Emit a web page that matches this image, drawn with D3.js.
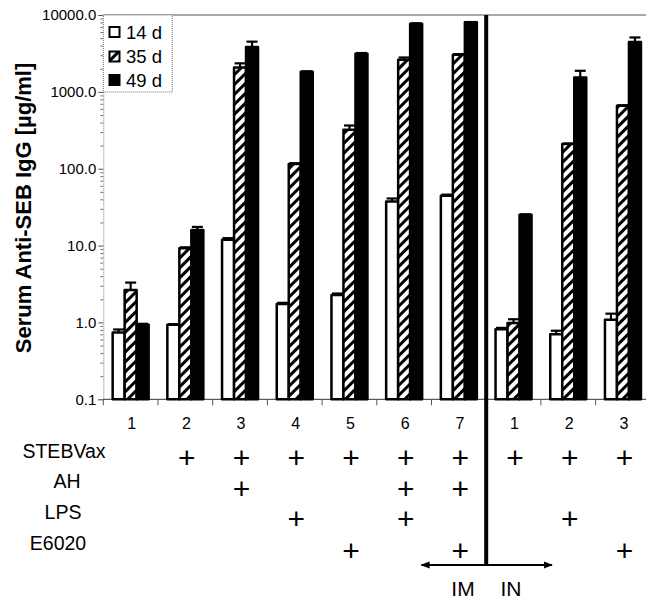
<!DOCTYPE html>
<html>
<head>
<meta charset="utf-8">
<script src="https://cdn.jsdelivr.net/npm/d3@7"></script>
<style>
  html, body { margin: 0; padding: 0; background: #fff; }
  svg { display: block; font-family: "Liberation Sans", Arial, Helvetica, sans-serif; }
</style>
</head>
<body>
<svg id="chart" width="646" height="600"></svg>
<script>
// ---- data ----
const categories = ["1", "2", "3", "4", "5", "6", "7", "1", "2", "3"];
const seriesNames = ["14 d", "35 d", "49 d"];
const day14 = [0.74, 0.93, 11.9, 1.74, 2.28, 37.4, 44.4, 0.815, 0.70, 1.08];
const day14Err = [0.81, 0.95, 12.5, 1.80, 2.38, 41, 46, 0.85, 0.78, 1.30];
const day35 = [2.65, 9.25, 2080, 115, 321, 2620, 3040, 0.98, 209, 659];
const day35Err = [3.3, 9.5, 2350, 118, 365, 2800, 3100, 1.1, 213, 670];
const day49 = [0.93, 16.0, 3830, 1830, 3130, 7710, 8020, 25.1, 1540, 4450];
const day49Err = [0.96, 17.5, 4500, 1850, 3200, 7800, 8100, 25.5, 1880, 5100];
const yTicks = [0.1, 1, 10, 100, 1000, 10000];
const rowLabels = ["STEBVax", "AH", "LPS", "E6020"];
const stebvax = [0, 1, 1, 1, 1, 1, 1, 1, 1, 1];
const ah      = [0, 0, 1, 0, 0, 1, 1, 0, 0, 0];
const lps     = [0, 0, 0, 1, 0, 1, 0, 0, 1, 0];
const e6020   = [0, 0, 0, 0, 1, 0, 1, 0, 0, 1];
const routeLabels = ["IM", "IN"];
const yLabel = "Serum Anti-SEB IgG [µg/ml]";

// ---- layout ----
const svg = d3.select("#chart");
const plotLeft = 103.3, plotRight = 650.3, plotTop = 15, plotBottom = 399.3;
const idx = d3.range(categories.length);
const x0 = d3.scaleBand().domain(idx).range([plotLeft, plotRight]).padding(0);
const barW = 12;
const x1 = d3.scaleBand().domain([0, 1, 2]).range([0, barW * 3]).padding(0);
const groupOffset = (x0.bandwidth() - barW * 3) / 2;
const y = d3.scaleLog().domain([0.1, 10000]).range([plotBottom, plotTop]);

const values = [day14, day35, day49];
const errs = [day14Err, day35Err, day49Err];
const fills = ["#fff", "url(#hatch)", "#000"];

// pattern
const defs = svg.append("defs");
const pat = defs.append("pattern").attr("id", "hatch")
  .attr("patternUnits", "userSpaceOnUse").attr("width", 7).attr("height", 7)
  .attr("patternTransform", "rotate(45)");
pat.append("rect").attr("width", 7).attr("height", 7).attr("fill", "#fff");
pat.append("line").attr("x1", 1.5).attr("x2", 1.5).attr("y1", 0).attr("y2", 7)
  .attr("stroke", "#000").attr("stroke-width", 3);

// top frame
svg.append("line").attr("x1", plotLeft).attr("x2", 646).attr("y1", plotTop).attr("y2", plotTop)
  .attr("stroke", "#555").attr("stroke-width", 1);

// y axis
const minorTicks = [];
for (let e = -1; e < 4; e++) for (let m = 2; m <= 9; m++) minorTicks.push(m * Math.pow(10, e));
const yAxisMinor = svg.append("g").attr("transform", `translate(${plotLeft},0)`)
  .call(d3.axisLeft(y).tickValues(minorTicks).tickSize(3).tickFormat(""));
yAxisMinor.select(".domain").remove();
yAxisMinor.selectAll("line").attr("stroke", "#777");
const yAxis = svg.append("g").attr("transform", `translate(${plotLeft},0)`)
  .call(d3.axisLeft(y).tickValues(yTicks).tickSize(5).tickPadding(2).tickFormat(d3.format(".1f")));
yAxis.select(".domain").attr("stroke", "#777").attr("stroke-dasharray", "1,1");
yAxis.selectAll("line").attr("stroke", "#555");
yAxis.selectAll("text").attr("font-size", 15).attr("fill", "#000")
  .style("font-family", "'Liberation Sans', Arial, sans-serif");

// bottom axis
const xAxis = svg.append("g").attr("transform", `translate(0,${plotBottom})`)
  .call(d3.axisBottom(x0).tickSize(0).tickFormat(i => categories[i]));
xAxis.select(".domain").attr("stroke", "#333").attr("d", `M${plotLeft},0H${plotRight}`);
xAxis.selectAll("text").attr("font-size", 16).attr("fill", "#000")
  .attr("y", 0).attr("dy", 0).attr("dx", 1)
  .attr("transform", "translate(0,30)")
  .style("font-family", "'Liberation Sans', Arial, sans-serif");
// boundary ticks
svg.append("g").selectAll("line").data(idx.slice(1)).join("line")
  .attr("x1", i => x0(i)).attr("x2", i => x0(i))
  .attr("y1", plotBottom).attr("y2", plotBottom + 6)
  .attr("stroke", "#555").attr("stroke-width", 1);
svg.append("line").attr("x1", plotLeft).attr("x2", plotLeft)
  .attr("y1", plotBottom).attr("y2", plotBottom + 6).attr("stroke", "#555");

// bars
const barsG = svg.append("g");
values.forEach((vals, s) => {
  barsG.append("g").selectAll("rect").data(idx).join("rect")
    .attr("x", i => x0(i) + groupOffset + x1(s))
    .attr("width", x1.bandwidth())
    .attr("y", i => y(vals[i]))
    .attr("height", i => plotBottom - y(vals[i]))
    .attr("fill", fills[s]).attr("stroke", "#000").attr("stroke-width", 2.5)
    .attr("stroke-linejoin", "round");
});
// error bars
values.forEach((vals, s) => {
  const g = barsG.append("g").attr("stroke", "#000").attr("stroke-width", 2.2);
  idx.forEach(i => {
    const cx = x0(i) + groupOffset + x1(s) + x1.bandwidth() / 2;
    g.append("line").attr("x1", cx).attr("x2", cx)
      .attr("y1", y(vals[i])).attr("y2", y(errs[s][i]));
    g.append("line").attr("x1", cx - 5.5).attr("x2", cx + 5.5)
      .attr("y1", y(errs[s][i])).attr("y2", y(errs[s][i]));
  });
});

// legend
const lg = svg.append("g");
lg.append("rect").attr("x", plotLeft).attr("y", plotTop).attr("width", 69).attr("height", 77)
  .attr("fill", "#fff").attr("stroke", "#777").attr("stroke-dasharray", "1,1");
const legendY = [32, 56.5, 80];
seriesNames.forEach((name, s) => {
  lg.append("rect").attr("x", 109.5).attr("y", legendY[s] - 5).attr("width", 10).attr("height", 10)
    .attr("fill", s === 1 ? "url(#hatch)" : fills[s]).attr("stroke", "#000").attr("stroke-width", 2);
  lg.append("text").attr("x", 126).attr("y", legendY[s] + 6.5).attr("font-size", 18.5)
    .text(name);
});

// separator and arrow
const sepX = x0(7);
svg.append("line").attr("x1", sepX).attr("x2", sepX).attr("y1", plotTop).attr("y2", 565)
  .attr("stroke", "#000").attr("stroke-width", 4);
defs.append("marker").attr("id", "arr").attr("viewBox", "0 0 10 10").attr("refX", 9).attr("refY", 5)
  .attr("markerWidth", 9).attr("markerHeight", 9).attr("markerUnits", "userSpaceOnUse")
  .attr("orient", "auto-start-reverse")
  .append("path").attr("d", "M0,1L10,5L0,9Z").attr("fill", "#000");
svg.append("line").attr("x1", 421.5).attr("x2", 552).attr("y1", 565).attr("y2", 565)
  .attr("stroke", "#000").attr("stroke-width", 2)
  .attr("marker-start", "url(#arr)").attr("marker-end", "url(#arr)");
svg.append("text").attr("x", 463).attr("y", 596).attr("text-anchor", "middle").attr("font-size", 21).text(routeLabels[0]);
svg.append("text").attr("x", 511).attr("y", 596).attr("text-anchor", "middle").attr("font-size", 21).text(routeLabels[1]);

// table rows
const rows = [stebvax, ah, lps, e6020];
const rowCenters = [450.7, 481, 511.7, 542.7];
const rowLabelX = [64, 67, 63, 58];
const plusCenters = [457, 488, 518.5, 550];
rows.forEach((row, r) => {
  svg.append("text").attr("x", rowLabelX[r]).attr("y", rowCenters[r] + 7)
    .attr("text-anchor", "middle").attr("font-size", 19.5).text(rowLabels[r]);
  svg.append("g").selectAll("text").data(idx.filter(i => row[i])).join("text")
    .attr("x", i => x0(i) + x0.bandwidth() / 2 + 1.5)
    .attr("y", plusCenters[r] + 10.5)
    .attr("text-anchor", "middle").attr("font-size", 30).text("+");
});

// y label
svg.append("text").attr("transform", "translate(31,208) rotate(-90)")
  .attr("text-anchor", "middle").attr("font-size", 22).attr("font-weight", "bold")
  .text(yLabel);
</script>
</body>
</html>
